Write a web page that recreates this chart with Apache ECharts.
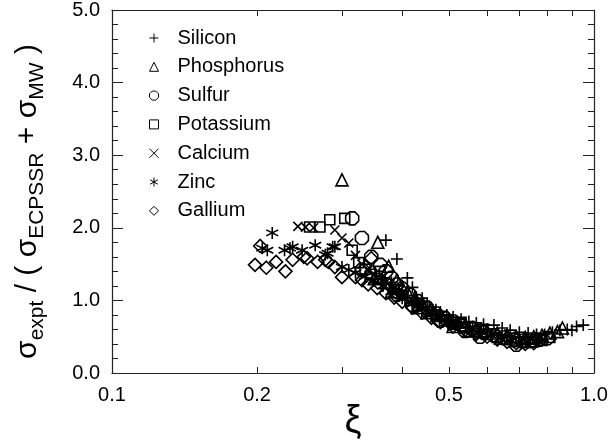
<!DOCTYPE html>
<html>
<head>
<meta charset="utf-8">
<script src="https://cdn.jsdelivr.net/npm/echarts@6/dist/echarts.min.js"></script>
<style>
  html, body { margin: 0; padding: 0; background: #fff; }
  #chart { width: 608px; height: 446px; }
</style>
</head>
<body>
<div id="chart"></div>
<script>
var FONT = '"Liberation Sans", Arial, sans-serif';

// values (xi, ratio)
var silicon = [[0.37,1.83],[0.39,1.57],[0.41,1.31],[0.42,1.18],[0.44,1.03],[0.455,0.91],[0.47,0.87],[0.48,0.84],[0.495,0.80],[0.51,0.77],[0.53,0.74],[0.55,0.71],[0.57,0.69],[0.59,0.67],[0.62,0.66],[0.645,0.62],[0.67,0.59],[0.70,0.56],[0.73,0.55],[0.76,0.53],[0.79,0.53],[0.82,0.56],[0.85,0.59],[0.88,0.60],[0.90,0.59],[0.92,0.64],[0.95,0.66],[0.38,1.25],[0.43,1.0],[0.52,0.70],[0.60,0.60],[0.66,0.50],[0.40,1.12],[0.46,0.82],[0.56,0.64],[0.72,0.49],[0.78,0.47]];
var phosphorus = [[0.30,2.66],[0.356,1.80],[0.375,1.47],[0.39,1.28],[0.40,1.18],[0.41,1.12],[0.425,1.04],[0.44,0.95],[0.46,0.88],[0.48,0.80],[0.50,0.74],[0.52,0.70],[0.54,0.66],[0.57,0.62],[0.60,0.58],[0.63,0.55],[0.66,0.52],[0.69,0.50],[0.72,0.49],[0.75,0.50],[0.78,0.52],[0.81,0.55],[0.84,0.57],[0.86,0.62],[0.38,1.12],[0.45,0.83],[0.55,0.58],[0.64,0.48],[0.74,0.44],[0.35,1.30],[0.43,0.90],[0.51,0.64]];
var sulfur = [[0.315,2.13],[0.33,1.86],[0.345,1.60],[0.36,1.49],[0.37,1.40],[0.38,1.31],[0.39,1.22],[0.40,1.16],[0.415,1.08],[0.43,0.99],[0.45,0.90],[0.47,0.82],[0.49,0.76],[0.51,0.71],[0.53,0.66],[0.56,0.61],[0.59,0.56],[0.62,0.52],[0.65,0.49],[0.68,0.46],[0.71,0.44],[0.74,0.44],[0.77,0.46],[0.80,0.48],[0.36,1.25],[0.42,0.94],[0.48,0.72],[0.58,0.50],[0.69,0.39],[0.33,1.42],[0.39,1.08],[0.54,0.58]];
var potassium = [[0.257,2.01],[0.27,2.01],[0.283,2.11],[0.304,2.13],[0.315,1.69],[0.325,1.52],[0.335,1.43],[0.345,1.36],[0.355,1.30],[0.37,1.23],[0.385,1.15],[0.40,1.07],[0.415,1.00],[0.43,0.93],[0.45,0.85],[0.47,0.78],[0.49,0.72],[0.51,0.67],[0.54,0.62],[0.57,0.57],[0.60,0.53],[0.63,0.49],[0.66,0.46],[0.69,0.43],[0.72,0.42],[0.75,0.43],[0.78,0.45],[0.81,0.49],[0.36,1.40],[0.44,0.96],[0.53,0.70]];
var calcium = [[0.243,2.02],[0.252,2.01],[0.262,2.0],[0.29,1.97],[0.30,1.86],[0.31,1.79],[0.32,1.62],[0.33,1.50],[0.34,1.42],[0.35,1.36],[0.36,1.30],[0.37,1.25],[0.385,1.18],[0.40,1.10],[0.42,1.01],[0.44,0.92],[0.46,0.85],[0.48,0.78],[0.50,0.73],[0.53,0.67],[0.56,0.62],[0.59,0.58],[0.62,0.55],[0.65,0.52],[0.68,0.50],[0.71,0.48],[0.74,0.48],[0.77,0.50],[0.80,0.52],[0.38,1.08],[0.47,0.76],[0.58,0.53]];
var zinc = [[0.205,1.72],[0.21,1.69],[0.215,1.93],[0.228,1.69],[0.234,1.72],[0.237,1.74],[0.248,1.69],[0.264,1.76],[0.277,1.63],[0.28,1.65],[0.287,1.74],[0.29,1.74],[0.30,1.46],[0.31,1.42],[0.32,1.38],[0.335,1.33],[0.35,1.27],[0.365,1.20],[0.38,1.12],[0.40,1.03],[0.42,0.95],[0.44,0.87],[0.46,0.80],[0.49,0.72],[0.52,0.66],[0.55,0.61],[0.58,0.56],[0.61,0.52],[0.64,0.48],[0.67,0.45],[0.70,0.43],[0.73,0.43],[0.76,0.45]];
var gallium = [[0.198,1.49],[0.203,1.75],[0.209,1.45],[0.219,1.53],[0.229,1.40],[0.237,1.56],[0.25,1.60],[0.254,1.58],[0.267,1.53],[0.277,1.56],[0.281,1.53],[0.29,1.46],[0.30,1.32],[0.32,1.32],[0.33,1.28],[0.345,1.58],[0.34,1.22],[0.355,1.17],[0.37,1.10],[0.385,1.04],[0.40,0.98],[0.42,0.90],[0.44,0.83],[0.46,0.76],[0.48,0.70],[0.51,0.64],[0.54,0.59],[0.57,0.54],[0.60,0.50],[0.63,0.46],[0.66,0.43],[0.69,0.41],[0.72,0.40],[0.75,0.41]];

var xLabelValues = [0.1, 0.2, 0.5, 1];
var xTickValues = [0.2, 0.3, 0.4, 0.5, 0.6, 0.7, 0.8, 0.9];

var names = ['Silicon', 'Phosphorus', 'Sulfur', 'Potassium', 'Calcium', 'Zinc', 'Gallium'];
var datasets = [silicon, phosphorus, sulfur, potassium, calcium, zinc, gallium];
var symbols = [
    'path://M0,5L10,5M5,0L5,10',
    'triangle',
    'path://M3,0L7,0L10,3L10,7L7,10L3,10L0,7L0,3Z',
    'rect',
    'path://M0,0L10,10M0,10L10,0',
    'path://M5,0L5,10M0.67,2.5L9.33,7.5M0.67,7.5L9.33,2.5',
    'diamond'
];
var sizes = [12, 12, 13, 10, 9, 12, 13];

var chart = echarts.init(document.getElementById('chart'));

var series = names.map(function (n, i) {
    return {
        name: n,
        type: 'scatter',
        data: datasets[i],
        symbol: symbols[i],
        symbolSize: sizes[i],
        itemStyle: { color: 'rgba(0,0,0,0)', borderColor: '#000', borderWidth: 1.6, opacity: 1 },
        emphasis: { disabled: true }
    };
});

function xAxisCfg(pos, showLabel) {
    return {
        type: 'log', logBase: 10, min: 0.1, max: 1, position: pos,
        name: showLabel ? 'ξ' : '',
        nameLocation: 'middle', nameGap: 30, nameMoveOverlap: false,
        nameTextStyle: { fontSize: 38, color: '#000', fontFamily: FONT },
        axisLine: { show: true, onZero: false, lineStyle: { color: '#222', width: 1.2 } },
        axisTick: { show: true, inside: true, length: 6, customValues: xTickValues, lineStyle: { color: '#222' } },
        axisLabel: {
            show: showLabel, customValues: xLabelValues, margin: 12,
            fontSize: 20, color: '#000', fontFamily: FONT,
            formatter: function (v) { return Number(v).toFixed(1); }
        },
        minorTick: { show: false },
        splitLine: { show: false }
    };
}

function yAxisCfg(pos, showLabel) {
    return {
        type: 'value', min: 0, max: 5, interval: 1, position: pos,
        name: showLabel ? '{s|σ}{sub|expt}{s| / ( σ}{sub|ECPSSR}{s| + σ}{sub|MW}{e| )}' : '',
        nameLocation: 'middle', nameGap: 62, nameRotate: 90, nameMoveOverlap: false,
        nameTextStyle: {
            color: '#000', fontFamily: FONT,
            rich: {
                s: { fontSize: 30, fontFamily: FONT, color: '#000', lineHeight: 44 },
                e: { fontSize: 30, fontFamily: FONT, color: '#000', lineHeight: 44, padding: [0, 20, 0, 0] },
                sub: { fontSize: 21, fontFamily: FONT, color: '#000', lineHeight: 44, padding: [18, 0, 0, 0] }
            }
        },
        axisLine: { show: true, lineStyle: { color: '#222', width: 1.2 } },
        axisTick: { show: true, inside: true, length: 11, lineStyle: { color: '#222' } },
        minorTick: { show: true, splitNumber: 5, length: 6, lineStyle: { color: '#222' } },
        axisLabel: {
            show: showLabel, margin: 12, fontSize: 20, color: '#000', fontFamily: FONT,
            formatter: function (v) { return v.toFixed(1); }
        },
        splitLine: { show: false }
    };
}

var option = {
    backgroundColor: '#fff',
    animation: false,
    grid: { left: 112, right: 14, top: 10, bottom: 73, containLabel: false, outerBoundsMode: 'none' },
    legend: {
        orient: 'vertical', left: 144, top: 23,
        itemWidth: 9, itemHeight: 9, itemGap: 8.8,
        selectedMode: false,
        textStyle: { fontSize: 20, color: '#000', fontFamily: FONT, lineHeight: 20, padding: [0, 0, 0, 14] },
        itemStyle: { color: 'rgba(0,0,0,0)', borderColor: '#000', borderWidth: 1 },
        data: names
    },
    xAxis: [xAxisCfg('bottom', true), xAxisCfg('top', false)],
    yAxis: [yAxisCfg('left', true), yAxisCfg('right', false)],
    series: series
};

chart.setOption(option);
</script>
</body>
</html>
